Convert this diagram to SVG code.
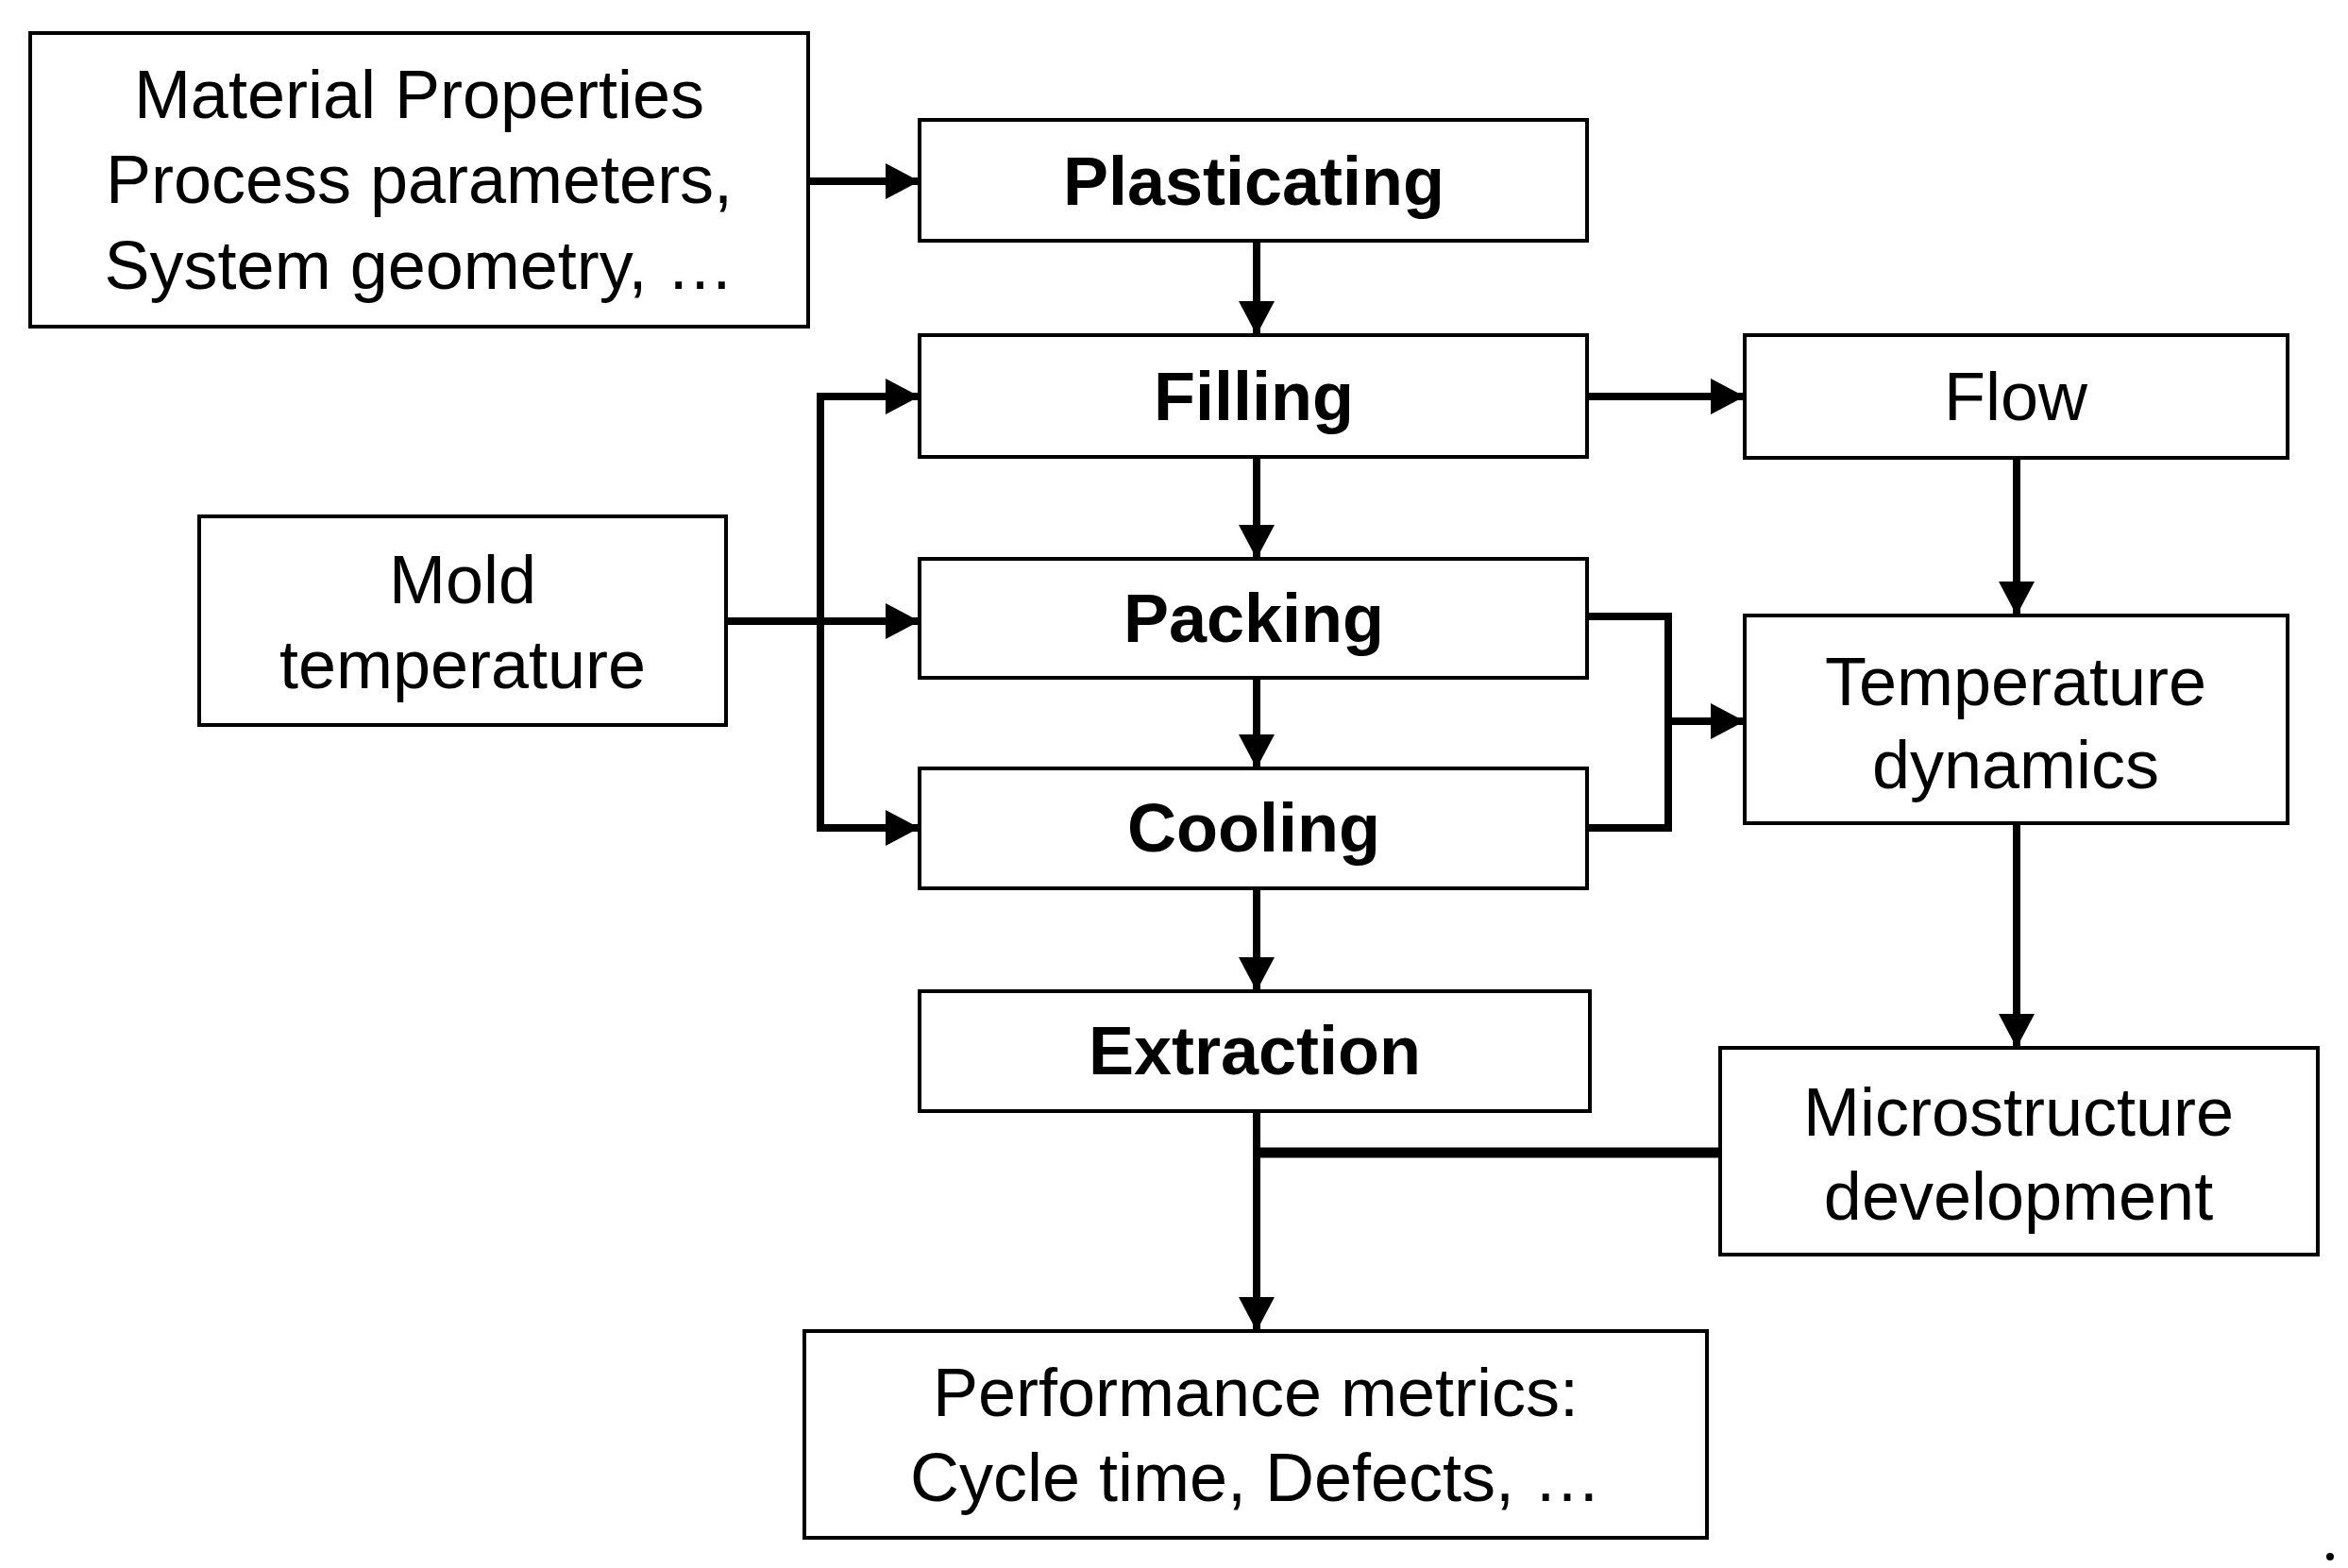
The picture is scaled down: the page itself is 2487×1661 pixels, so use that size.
<svg xmlns="http://www.w3.org/2000/svg" width="2487" height="1661" viewBox="0 0 2487 1661">
<style>
.box{fill:#fff;stroke:#000;stroke-width:4}
.t{font-family:"Liberation Sans",Arial,sans-serif;font-size:72px;text-anchor:middle;fill:#000}
.b{font-weight:bold}
.c{fill:none;stroke:#000;stroke-width:8}
</style>
<defs>
<marker id="ah" markerUnits="userSpaceOnUse" markerWidth="36" markerHeight="38" refX="36" refY="19" orient="auto">
<polygon points="0,0 36,19 0,38" fill="#000"/>
</marker>
</defs>
<g id="connectors">
<line class="c" x1="856" y1="192" x2="974" y2="192" marker-end="url(#ah)"/>
<line class="c" x1="1331" y1="255" x2="1331" y2="355" marker-end="url(#ah)"/>
<line class="c" x1="1331" y1="484" x2="1331" y2="592" marker-end="url(#ah)"/>
<line class="c" x1="1331" y1="718" x2="1331" y2="814" marker-end="url(#ah)"/>
<line class="c" x1="1331" y1="941" x2="1331" y2="1050" marker-end="url(#ah)"/>
<line class="c" x1="769" y1="658" x2="974" y2="658" marker-end="url(#ah)"/>
<polyline class="c" points="869,658 869,420 974,420" marker-end="url(#ah)"/>
<polyline class="c" points="869,658 869,877 974,877" marker-end="url(#ah)"/>
<line class="c" x1="1681" y1="420" x2="1848" y2="420" marker-end="url(#ah)"/>
<line class="c" x1="2136" y1="485" x2="2136" y2="652" marker-end="url(#ah)"/>
<polyline class="c" points="1681,653 1767,653 1767,877 1681,877"/>
<line class="c" x1="1767" y1="764" x2="1848" y2="764" marker-end="url(#ah)"/>
<line class="c" x1="2136" y1="872" x2="2136" y2="1110" marker-end="url(#ah)"/>
<line class="c" x1="1331" y1="1177" x2="1331" y2="1410" marker-end="url(#ah)"/>
<line class="c" style="stroke-width:11" x1="1822" y1="1221" x2="1331" y2="1221"/>
</g>
<g id="material"><rect class="box" x="32" y="35" width="824" height="311"/>
<text class="t" x="444" y="125">Material Properties</text><text class="t" x="444" y="215">Process parameters,</text><text class="t" x="444" y="306">System geometry, …</text></g>
<g id="plasticating"><rect class="box" x="974" y="127" width="707" height="128"/><text class="t b" x="1328" y="217">Plasticating</text></g>
<g id="filling"><rect class="box" x="974" y="355" width="707" height="129"/><text class="t b" x="1328" y="445">Filling</text></g>
<g id="packing"><rect class="box" x="974" y="592" width="707" height="126"/><text class="t b" x="1328" y="680">Packing</text></g>
<g id="cooling"><rect class="box" x="974" y="814" width="707" height="127"/><text class="t b" x="1328" y="902">Cooling</text></g>
<g id="extraction"><rect class="box" x="974" y="1050" width="710" height="127"/><text class="t b" x="1329" y="1138">Extraction</text></g>
<g id="performance"><rect class="box" x="852" y="1410" width="956" height="219"/>
<text class="t" x="1330" y="1500">Performance metrics:</text><text class="t" x="1330" y="1590">Cycle time, Defects, …</text></g>
<g id="mold"><rect class="box" x="211" y="547" width="558" height="221"/>
<text class="t" x="490" y="639">Mold</text><text class="t" x="490" y="729">temperature</text></g>
<g id="flow"><rect class="box" x="1848" y="355" width="575" height="130"/><text class="t" x="2135" y="445">Flow</text></g>
<g id="temperature"><rect class="box" x="1848" y="652" width="575" height="220"/>
<text class="t" x="2135" y="747">Temperature</text><text class="t" x="2135" y="835">dynamics</text></g>
<g id="microstructure"><rect class="box" x="1822" y="1110" width="633" height="219"/>
<text class="t" x="2138" y="1203">Microstructure</text><text class="t" x="2138" y="1292">development</text></g>
<circle cx="2468" cy="1649" r="4" fill="#000"/>
</svg>
